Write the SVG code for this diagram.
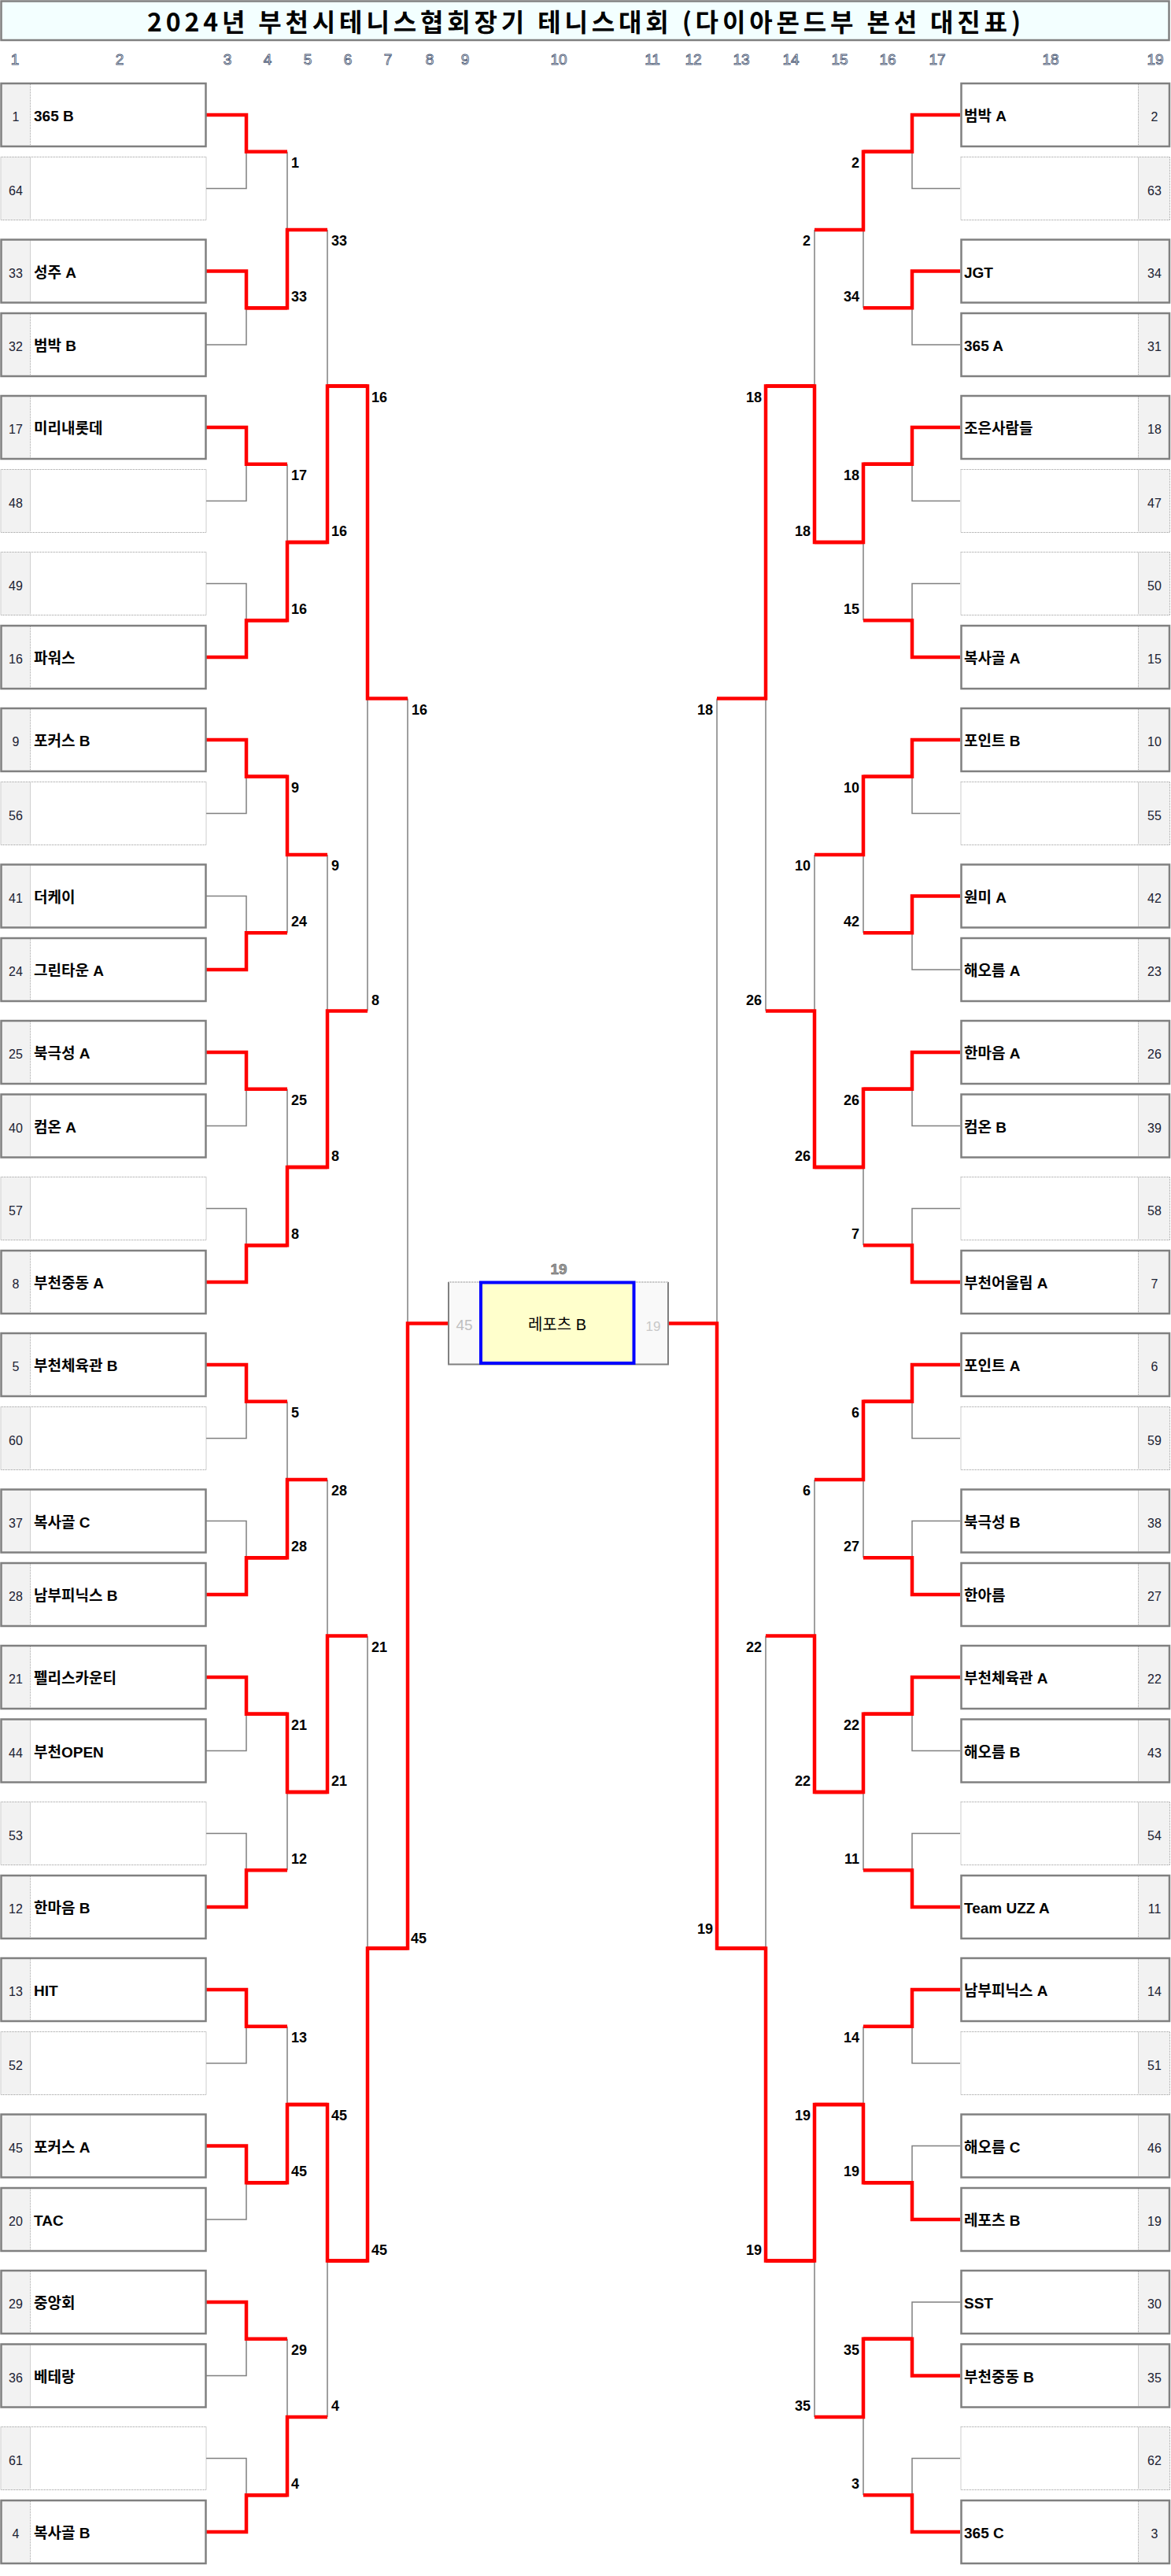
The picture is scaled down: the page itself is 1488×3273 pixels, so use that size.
<svg xmlns="http://www.w3.org/2000/svg" width="1488" height="3273" viewBox="0 0 1488 3273">
<style>
.bg{fill:#ffffff}
.sc{fill:#f2f2f2;stroke:none}
.fr{fill:none;stroke:#808080;stroke-width:2.5}
.fe{fill:none;stroke:#9a9a9a;stroke-width:1;stroke-dasharray:1 1}
.dv{stroke:#a8a8a8;stroke-width:1;stroke-dasharray:1 1}
.sd{font-family:'Liberation Sans','Noto Sans CJK KR',sans-serif;font-size:16px;fill:#1c2233;text-anchor:middle}
.nm{font-family:'Liberation Sans','Noto Sans CJK KR',sans-serif;font-size:19px;font-weight:bold;fill:#000}
.lb{font-family:'Liberation Sans','Noto Sans CJK KR',sans-serif;font-size:18px;font-weight:bold;fill:#000}
.lbr{font-family:'Liberation Sans','Noto Sans CJK KR',sans-serif;font-size:18px;font-weight:bold;fill:#000;text-anchor:end}
.hd{font-family:'Liberation Sans',sans-serif;font-size:19px;fill:#ffffff;stroke:#4e5c78;stroke-width:0.9;text-anchor:middle}
.red{fill:none;stroke:#ff0000;stroke-width:4.5;stroke-linejoin:miter}
.gry{fill:none;stroke:#808080;stroke-width:1.5}
</style>
<defs>
<g id="lbox"><rect class="bg" x="1.5" y="0" width="260" height="80"/><rect class="sc" x="1.5" y="0" width="37" height="80"/><line class="dv" x1="38.5" y1="1" x2="38.5" y2="79"/><rect class="fr" x="1.5" y="0" width="260" height="80"/></g>
<g id="lboxe"><rect class="bg" x="1.5" y="0" width="260" height="80"/><rect class="sc" x="1.5" y="0" width="37" height="80"/><line class="dv" x1="38.5" y1="1" x2="38.5" y2="79"/><rect class="fe" x="1" y="0" width="261" height="80"/></g>
<g id="rbox"><rect class="bg" x="1.5" y="0" width="264.5" height="80"/><rect class="sc" x="226" y="0" width="40" height="80"/><line class="dv" x1="226.5" y1="1" x2="226.5" y2="79"/><rect class="fr" x="1.5" y="0" width="264.5" height="80"/></g>
<g id="rboxe"><rect class="bg" x="1.5" y="0" width="264.5" height="80"/><rect class="sc" x="226" y="0" width="40" height="80"/><line class="dv" x1="226.5" y1="1" x2="226.5" y2="79"/><rect class="fe" x="1" y="0" width="265.5" height="80"/></g>
</defs>
<rect x="0" y="0" width="1488" height="3273" fill="#ffffff"/>
<g id="title">
<rect x="1.5" y="1.5" width="1484" height="49.5" fill="#f3ffff" stroke="#808080" stroke-width="2.5"/>
<text x="742" y="40" text-anchor="middle" textLength="1110" lengthAdjust="spacing" style="font-family:'Noto Sans CJK KR',sans-serif;font-size:32px;font-weight:bold;fill:#000">2024년 부천시테니스협회장기 테니스대회 (다이아몬드부 본선 대진표)</text>
</g>
<g id="columns">
<text class="hd" x="19" y="82">1</text><text class="hd" x="152" y="82">2</text><text class="hd" x="289" y="82">3</text><text class="hd" x="340" y="82">4</text><text class="hd" x="391" y="82">5</text><text class="hd" x="442" y="82">6</text><text class="hd" x="493" y="82">7</text><text class="hd" x="546" y="82">8</text><text class="hd" x="591" y="82">9</text><text class="hd" x="710" y="82">10</text><text class="hd" x="829" y="82">11</text><text class="hd" x="881" y="82">12</text><text class="hd" x="942" y="82">13</text><text class="hd" x="1005" y="82">14</text><text class="hd" x="1067" y="82">15</text><text class="hd" x="1128" y="82">16</text><text class="hd" x="1191" y="82">17</text><text class="hd" x="1335" y="82">18</text><text class="hd" x="1468" y="82">19</text>
</g>
<g id="connectors">
<g id="gray-lines">
<path class="gry" d="M262 239.5H313V192.75M262 438H313V391.25M262 636.5H313V589.75M262 741.5H313V788.25M262 1033.5H313V986.75M262 1138.5H313V1185.25M262 1430.5H313V1383.75M262 1535.5H313V1582.25M262 1827.5H313V1780.75M262 1932.5H313V1979.25M262 2224.5H313V2177.75M262 2329.5H313V2376.25M262 2621.5H313V2574.75M262 2820H313V2773.25M262 3018.5H313V2971.75M262 3123.5H313V3170.25"/>
<path class="gry" d="M365 192.75V292M365 589.75V689M365 1185.25V1086M365 1383.75V1483M365 1780.75V1880M365 2376.25V2277M365 2574.75V2674M365 2971.75V3071"/>
<path class="gry" d="M416 292V490.5M416 1086V1284.5M416 1880V2078.5M416 3071V2872.5M467 1284.5V887.5M467 2078.5V2475.5M518 887.5V1681.5"/>
<path class="gry" d="M1220 239.5H1159V192.75M1220 438H1159V391.25M1220 636.5H1159V589.75M1220 741.5H1159V788.25M1220 1033.5H1159V986.75M1220 1232H1159V1185.25M1220 1430.5H1159V1383.75M1220 1535.5H1159V1582.25M1220 1827.5H1159V1780.75M1220 1932.5H1159V1979.25M1220 2224.5H1159V2177.75M1220 2329.5H1159V2376.25M1220 2621.5H1159V2574.75M1220 2726.5H1159V2773.25M1220 2925H1159V2971.75M1220 3123.5H1159V3170.25"/>
<path class="gry" d="M1097 391.25V292M1097 788.25V689M1097 1185.25V1086M1097 1582.25V1483M1097 1979.25V1880M1097 2376.25V2277M1097 2574.75V2674M1097 3170.25V3071"/>
<path class="gry" d="M1035 292V490.5M1035 1086V1284.5M1035 1880V2078.5M1035 3071V2872.5M973 1284.5V887.5M973 2078.5V2475.5M911 887.5V1681.5"/>
</g>
<g id="red-lines">
<path class="red" d="M262 146H313V192.75H365"/>
<path class="red" d="M262 344.5H313V391.25H365"/>
<path class="red" d="M262 543H313V589.75H365"/>
<path class="red" d="M262 835H313V788.25H365"/>
<path class="red" d="M262 940H313V986.75H365"/>
<path class="red" d="M262 1232H313V1185.25H365"/>
<path class="red" d="M262 1337H313V1383.75H365"/>
<path class="red" d="M262 1629H313V1582.25H365"/>
<path class="red" d="M262 1734H313V1780.75H365"/>
<path class="red" d="M262 2026H313V1979.25H365"/>
<path class="red" d="M262 2131H313V2177.75H365"/>
<path class="red" d="M262 2423H313V2376.25H365"/>
<path class="red" d="M262 2528H313V2574.75H365"/>
<path class="red" d="M262 2726.5H313V2773.25H365"/>
<path class="red" d="M262 2925H313V2971.75H365"/>
<path class="red" d="M262 3217H313V3170.25H365"/>
<path class="red" d="M313 391.25H365V292H416"/>
<path class="red" d="M313 788.25H365V689H416"/>
<path class="red" d="M313 986.75H365V1086H416"/>
<path class="red" d="M313 1582.25H365V1483H416"/>
<path class="red" d="M313 1979.25H365V1880H416"/>
<path class="red" d="M313 2177.75H365V2277H416"/>
<path class="red" d="M313 2773.25H365V2674H416"/>
<path class="red" d="M313 3170.25H365V3071H416"/>
<path class="red" d="M365 689H416V490.5H467"/>
<path class="red" d="M365 1483H416V1284.5H467"/>
<path class="red" d="M365 2277H416V2078.5H467"/>
<path class="red" d="M365 2674H416V2872.5H467"/>
<path class="red" d="M416 490.5H467V887.5H518"/>
<path class="red" d="M416 2872.5H467V2475.5H518"/>
<path class="red" d="M467 2475.5H518V1681.5H570"/>
<path class="red" d="M1220 146H1159V192.75H1097"/>
<path class="red" d="M1220 344.5H1159V391.25H1097"/>
<path class="red" d="M1220 543H1159V589.75H1097"/>
<path class="red" d="M1220 835H1159V788.25H1097"/>
<path class="red" d="M1220 940H1159V986.75H1097"/>
<path class="red" d="M1220 1138.5H1159V1185.25H1097"/>
<path class="red" d="M1220 1337H1159V1383.75H1097"/>
<path class="red" d="M1220 1629H1159V1582.25H1097"/>
<path class="red" d="M1220 1734H1159V1780.75H1097"/>
<path class="red" d="M1220 2026H1159V1979.25H1097"/>
<path class="red" d="M1220 2131H1159V2177.75H1097"/>
<path class="red" d="M1220 2423H1159V2376.25H1097"/>
<path class="red" d="M1220 2528H1159V2574.75H1097"/>
<path class="red" d="M1220 2820H1159V2773.25H1097"/>
<path class="red" d="M1220 3018.5H1159V2971.75H1097"/>
<path class="red" d="M1220 3217H1159V3170.25H1097"/>
<path class="red" d="M1159 192.75H1097V292H1035"/>
<path class="red" d="M1159 589.75H1097V689H1035"/>
<path class="red" d="M1159 986.75H1097V1086H1035"/>
<path class="red" d="M1159 1383.75H1097V1483H1035"/>
<path class="red" d="M1159 1780.75H1097V1880H1035"/>
<path class="red" d="M1159 2177.75H1097V2277H1035"/>
<path class="red" d="M1159 2773.25H1097V2674H1035"/>
<path class="red" d="M1159 2971.75H1097V3071H1035"/>
<path class="red" d="M1097 689H1035V490.5H973"/>
<path class="red" d="M1097 1483H1035V1284.5H973"/>
<path class="red" d="M1097 2277H1035V2078.5H973"/>
<path class="red" d="M1097 2674H1035V2872.5H973"/>
<path class="red" d="M1035 490.5H973V887.5H911"/>
<path class="red" d="M1035 2872.5H973V2475.5H911"/>
<path class="red" d="M973 2475.5H911V1681.5H849"/>
</g>
</g>
<g id="labels">
<text class="lb" x="370" y="212.75">1</text><text class="lb" x="370" y="383.25">33</text><text class="lb" x="370" y="609.75">17</text><text class="lb" x="370" y="780.25">16</text><text class="lb" x="370" y="1006.75">9</text><text class="lb" x="370" y="1177.25">24</text><text class="lb" x="370" y="1403.75">25</text><text class="lb" x="370" y="1574.25">8</text><text class="lb" x="370" y="1800.75">5</text><text class="lb" x="370" y="1971.25">28</text><text class="lb" x="370" y="2197.75">21</text><text class="lb" x="370" y="2368.25">12</text><text class="lb" x="370" y="2594.75">13</text><text class="lb" x="370" y="2765.25">45</text><text class="lb" x="370" y="2991.75">29</text><text class="lb" x="370" y="3162.25">4</text>
<text class="lb" x="421" y="312">33</text><text class="lb" x="421" y="681">16</text><text class="lb" x="421" y="1106">9</text><text class="lb" x="421" y="1475">8</text><text class="lb" x="421" y="1900">28</text><text class="lb" x="421" y="2269">21</text><text class="lb" x="421" y="2694">45</text><text class="lb" x="421" y="3063">4</text>
<text class="lb" x="472" y="510.5">16</text><text class="lb" x="472" y="1276.5">8</text><text class="lb" x="472" y="2098.5">21</text><text class="lb" x="472" y="2864.5">45</text>
<text class="lb" x="523" y="907.5">16</text><text class="lb" x="522" y="2469">45</text>
<text class="lbr" x="1092" y="212.75">2</text><text class="lbr" x="1092" y="383.25">34</text><text class="lbr" x="1092" y="609.75">18</text><text class="lbr" x="1092" y="780.25">15</text><text class="lbr" x="1092" y="1006.75">10</text><text class="lbr" x="1092" y="1177.25">42</text><text class="lbr" x="1092" y="1403.75">26</text><text class="lbr" x="1092" y="1574.25">7</text><text class="lbr" x="1092" y="1800.75">6</text><text class="lbr" x="1092" y="1971.25">27</text><text class="lbr" x="1092" y="2197.75">22</text><text class="lbr" x="1092" y="2368.25">11</text><text class="lbr" x="1092" y="2594.75">14</text><text class="lbr" x="1092" y="2765.25">19</text><text class="lbr" x="1092" y="2991.75">35</text><text class="lbr" x="1092" y="3162.25">3</text>
<text class="lbr" x="1030" y="312">2</text><text class="lbr" x="1030" y="681">18</text><text class="lbr" x="1030" y="1106">10</text><text class="lbr" x="1030" y="1475">26</text><text class="lbr" x="1030" y="1900">6</text><text class="lbr" x="1030" y="2269">22</text><text class="lbr" x="1030" y="2694">19</text><text class="lbr" x="1030" y="3063">35</text>
<text class="lbr" x="968" y="510.5">18</text><text class="lbr" x="968" y="1276.5">26</text><text class="lbr" x="968" y="2098.5">22</text><text class="lbr" x="968" y="2864.5">19</text>
<text class="lbr" x="906" y="907.5">18</text><text class="lbr" x="906" y="2457">19</text>
</g>
<g id="final">
<rect x="570" y="1629" width="279" height="104.5" fill="#f9f9f9"/>
<path d="M570 1629V1733.5H849V1629" fill="none" stroke="#808080" stroke-width="2"/>
<line x1="570" y1="1629" x2="849" y2="1629" stroke="#9a9a9a" stroke-width="1.5" stroke-dasharray="1 1"/>
<rect x="611" y="1629.5" width="194.5" height="102.5" fill="#ffffcc" stroke="#0000ff" stroke-width="4"/>
<text x="590" y="1690" text-anchor="middle" style="font-family:'Liberation Sans',sans-serif;font-size:19px;fill:#bfbfbf">45</text>
<text x="830" y="1691" text-anchor="middle" style="font-family:'Liberation Sans',sans-serif;font-size:17px;fill:#c8c8c8">19</text>
<text x="708" y="1690" text-anchor="middle" style="font-family:'Liberation Sans','Noto Sans CJK KR',sans-serif;font-size:20px;fill:#000">레포츠 B</text>
<text x="710" y="1619" text-anchor="middle" style="font-family:'Liberation Sans',sans-serif;font-size:19px;font-weight:bold;fill:#9a9a9a;stroke:#4a4a4a;stroke-width:0.5">19</text>
</g>
<g id="L1" transform="translate(0,106)"><use href="#lbox"/><text class="sd" x="20" y="48">1</text><text class="nm" x="43" y="48">365 B</text></g>
<g id="L64" transform="translate(0,199.5)"><use href="#lboxe"/><text class="sd" x="20" y="48">64</text></g>
<g id="L33" transform="translate(0,304.5)"><use href="#lbox"/><text class="sd" x="20" y="48">33</text><text class="nm" x="43" y="48">성주 A</text></g>
<g id="L32" transform="translate(0,398)"><use href="#lbox"/><text class="sd" x="20" y="48">32</text><text class="nm" x="43" y="48">범박 B</text></g>
<g id="L17" transform="translate(0,503)"><use href="#lbox"/><text class="sd" x="20" y="48">17</text><text class="nm" x="43" y="48">미리내롯데</text></g>
<g id="L48" transform="translate(0,596.5)"><use href="#lboxe"/><text class="sd" x="20" y="48">48</text></g>
<g id="L49" transform="translate(0,701.5)"><use href="#lboxe"/><text class="sd" x="20" y="48">49</text></g>
<g id="L16" transform="translate(0,795)"><use href="#lbox"/><text class="sd" x="20" y="48">16</text><text class="nm" x="43" y="48">파워스</text></g>
<g id="L9" transform="translate(0,900)"><use href="#lbox"/><text class="sd" x="20" y="48">9</text><text class="nm" x="43" y="48">포커스 B</text></g>
<g id="L56" transform="translate(0,993.5)"><use href="#lboxe"/><text class="sd" x="20" y="48">56</text></g>
<g id="L41" transform="translate(0,1098.5)"><use href="#lbox"/><text class="sd" x="20" y="48">41</text><text class="nm" x="43" y="48">더케이</text></g>
<g id="L24" transform="translate(0,1192)"><use href="#lbox"/><text class="sd" x="20" y="48">24</text><text class="nm" x="43" y="48">그린타운 A</text></g>
<g id="L25" transform="translate(0,1297)"><use href="#lbox"/><text class="sd" x="20" y="48">25</text><text class="nm" x="43" y="48">북극성 A</text></g>
<g id="L40" transform="translate(0,1390.5)"><use href="#lbox"/><text class="sd" x="20" y="48">40</text><text class="nm" x="43" y="48">컴온 A</text></g>
<g id="L57" transform="translate(0,1495.5)"><use href="#lboxe"/><text class="sd" x="20" y="48">57</text></g>
<g id="L8" transform="translate(0,1589)"><use href="#lbox"/><text class="sd" x="20" y="48">8</text><text class="nm" x="43" y="48">부천중동 A</text></g>
<g id="L5" transform="translate(0,1694)"><use href="#lbox"/><text class="sd" x="20" y="48">5</text><text class="nm" x="43" y="48">부천체육관 B</text></g>
<g id="L60" transform="translate(0,1787.5)"><use href="#lboxe"/><text class="sd" x="20" y="48">60</text></g>
<g id="L37" transform="translate(0,1892.5)"><use href="#lbox"/><text class="sd" x="20" y="48">37</text><text class="nm" x="43" y="48">복사골 C</text></g>
<g id="L28" transform="translate(0,1986)"><use href="#lbox"/><text class="sd" x="20" y="48">28</text><text class="nm" x="43" y="48">남부피닉스 B</text></g>
<g id="L21" transform="translate(0,2091)"><use href="#lbox"/><text class="sd" x="20" y="48">21</text><text class="nm" x="43" y="48">펠리스카운티</text></g>
<g id="L44" transform="translate(0,2184.5)"><use href="#lbox"/><text class="sd" x="20" y="48">44</text><text class="nm" x="43" y="48">부천OPEN</text></g>
<g id="L53" transform="translate(0,2289.5)"><use href="#lboxe"/><text class="sd" x="20" y="48">53</text></g>
<g id="L12" transform="translate(0,2383)"><use href="#lbox"/><text class="sd" x="20" y="48">12</text><text class="nm" x="43" y="48">한마음 B</text></g>
<g id="L13" transform="translate(0,2488)"><use href="#lbox"/><text class="sd" x="20" y="48">13</text><text class="nm" x="43" y="48">HIT</text></g>
<g id="L52" transform="translate(0,2581.5)"><use href="#lboxe"/><text class="sd" x="20" y="48">52</text></g>
<g id="L45" transform="translate(0,2686.5)"><use href="#lbox"/><text class="sd" x="20" y="48">45</text><text class="nm" x="43" y="48">포커스 A</text></g>
<g id="L20" transform="translate(0,2780)"><use href="#lbox"/><text class="sd" x="20" y="48">20</text><text class="nm" x="43" y="48">TAC</text></g>
<g id="L29" transform="translate(0,2885)"><use href="#lbox"/><text class="sd" x="20" y="48">29</text><text class="nm" x="43" y="48">중앙회</text></g>
<g id="L36" transform="translate(0,2978.5)"><use href="#lbox"/><text class="sd" x="20" y="48">36</text><text class="nm" x="43" y="48">베테랑</text></g>
<g id="L61" transform="translate(0,3083.5)"><use href="#lboxe"/><text class="sd" x="20" y="48">61</text></g>
<g id="L4" transform="translate(0,3177)"><use href="#lbox"/><text class="sd" x="20" y="48">4</text><text class="nm" x="43" y="48">복사골 B</text></g>
<g id="R2" transform="translate(1220,106)"><use href="#rbox"/><text class="sd" x="247" y="48">2</text><text class="nm" x="5" y="48">범박 A</text></g>
<g id="R63" transform="translate(1220,199.5)"><use href="#rboxe"/><text class="sd" x="247" y="48">63</text></g>
<g id="R34" transform="translate(1220,304.5)"><use href="#rbox"/><text class="sd" x="247" y="48">34</text><text class="nm" x="5" y="48">JGT</text></g>
<g id="R31" transform="translate(1220,398)"><use href="#rbox"/><text class="sd" x="247" y="48">31</text><text class="nm" x="5" y="48">365 A</text></g>
<g id="R18" transform="translate(1220,503)"><use href="#rbox"/><text class="sd" x="247" y="48">18</text><text class="nm" x="5" y="48">조은사람들</text></g>
<g id="R47" transform="translate(1220,596.5)"><use href="#rboxe"/><text class="sd" x="247" y="48">47</text></g>
<g id="R50" transform="translate(1220,701.5)"><use href="#rboxe"/><text class="sd" x="247" y="48">50</text></g>
<g id="R15" transform="translate(1220,795)"><use href="#rbox"/><text class="sd" x="247" y="48">15</text><text class="nm" x="5" y="48">복사골 A</text></g>
<g id="R10" transform="translate(1220,900)"><use href="#rbox"/><text class="sd" x="247" y="48">10</text><text class="nm" x="5" y="48">포인트 B</text></g>
<g id="R55" transform="translate(1220,993.5)"><use href="#rboxe"/><text class="sd" x="247" y="48">55</text></g>
<g id="R42" transform="translate(1220,1098.5)"><use href="#rbox"/><text class="sd" x="247" y="48">42</text><text class="nm" x="5" y="48">원미 A</text></g>
<g id="R23" transform="translate(1220,1192)"><use href="#rbox"/><text class="sd" x="247" y="48">23</text><text class="nm" x="5" y="48">해오름 A</text></g>
<g id="R26" transform="translate(1220,1297)"><use href="#rbox"/><text class="sd" x="247" y="48">26</text><text class="nm" x="5" y="48">한마음 A</text></g>
<g id="R39" transform="translate(1220,1390.5)"><use href="#rbox"/><text class="sd" x="247" y="48">39</text><text class="nm" x="5" y="48">컴온 B</text></g>
<g id="R58" transform="translate(1220,1495.5)"><use href="#rboxe"/><text class="sd" x="247" y="48">58</text></g>
<g id="R7" transform="translate(1220,1589)"><use href="#rbox"/><text class="sd" x="247" y="48">7</text><text class="nm" x="5" y="48">부천어울림 A</text></g>
<g id="R6" transform="translate(1220,1694)"><use href="#rbox"/><text class="sd" x="247" y="48">6</text><text class="nm" x="5" y="48">포인트 A</text></g>
<g id="R59" transform="translate(1220,1787.5)"><use href="#rboxe"/><text class="sd" x="247" y="48">59</text></g>
<g id="R38" transform="translate(1220,1892.5)"><use href="#rbox"/><text class="sd" x="247" y="48">38</text><text class="nm" x="5" y="48">북극성 B</text></g>
<g id="R27" transform="translate(1220,1986)"><use href="#rbox"/><text class="sd" x="247" y="48">27</text><text class="nm" x="5" y="48">한아름</text></g>
<g id="R22" transform="translate(1220,2091)"><use href="#rbox"/><text class="sd" x="247" y="48">22</text><text class="nm" x="5" y="48">부천체육관 A</text></g>
<g id="R43" transform="translate(1220,2184.5)"><use href="#rbox"/><text class="sd" x="247" y="48">43</text><text class="nm" x="5" y="48">해오름 B</text></g>
<g id="R54" transform="translate(1220,2289.5)"><use href="#rboxe"/><text class="sd" x="247" y="48">54</text></g>
<g id="R11" transform="translate(1220,2383)"><use href="#rbox"/><text class="sd" x="247" y="48">11</text><text class="nm" x="5" y="48">Team UZZ A</text></g>
<g id="R14" transform="translate(1220,2488)"><use href="#rbox"/><text class="sd" x="247" y="48">14</text><text class="nm" x="5" y="48">남부피닉스 A</text></g>
<g id="R51" transform="translate(1220,2581.5)"><use href="#rboxe"/><text class="sd" x="247" y="48">51</text></g>
<g id="R46" transform="translate(1220,2686.5)"><use href="#rbox"/><text class="sd" x="247" y="48">46</text><text class="nm" x="5" y="48">해오름 C</text></g>
<g id="R19" transform="translate(1220,2780)"><use href="#rbox"/><text class="sd" x="247" y="48">19</text><text class="nm" x="5" y="48">레포츠 B</text></g>
<g id="R30" transform="translate(1220,2885)"><use href="#rbox"/><text class="sd" x="247" y="48">30</text><text class="nm" x="5" y="48">SST</text></g>
<g id="R35" transform="translate(1220,2978.5)"><use href="#rbox"/><text class="sd" x="247" y="48">35</text><text class="nm" x="5" y="48">부천중동 B</text></g>
<g id="R62" transform="translate(1220,3083.5)"><use href="#rboxe"/><text class="sd" x="247" y="48">62</text></g>
<g id="R3" transform="translate(1220,3177)"><use href="#rbox"/><text class="sd" x="247" y="48">3</text><text class="nm" x="5" y="48">365 C</text></g>
</svg>
